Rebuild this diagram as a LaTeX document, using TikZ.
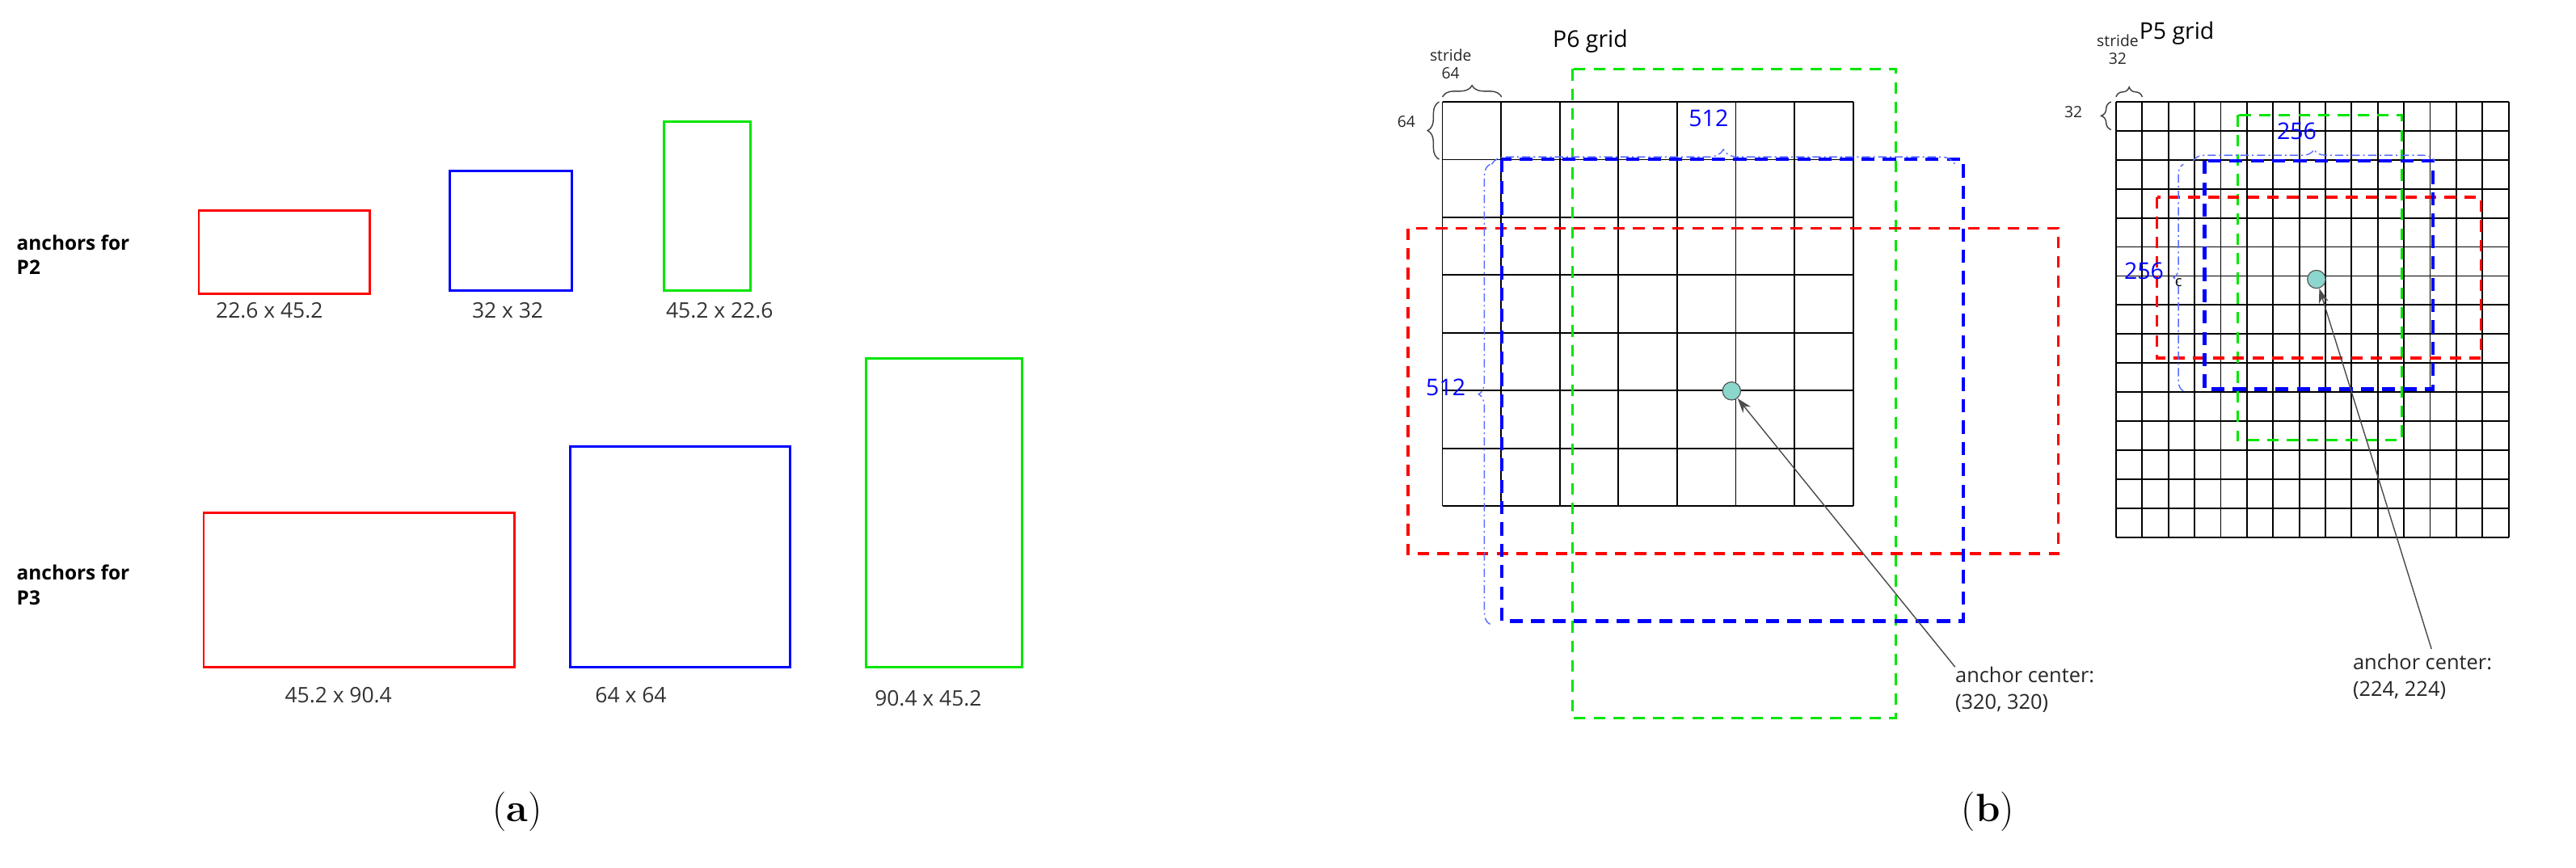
\documentclass[tikz,border=0pt]{standalone}
\usepackage{fontspec}
\setsansfont{Open Sans}
\usetikzlibrary{decorations.pathreplacing,arrows.meta}
\definecolor{gr}{RGB}{0,230,0}
\definecolor{bl}{RGB}{0,0,255}
\definecolor{lb}{RGB}{90,110,255}
\definecolor{dot}{RGB}{140,215,205}
\tikzset{
 lab/.style={font=\sffamily\fontsize{13}{14}\selectfont, text=black!80, inner sep=0pt},
 anc/.style={font=\sffamily\bfseries\fontsize{12}{15}\selectfont, align=left, inner sep=0pt, anchor=west},
 rbox/.style={draw=red, line width=1.4pt},
 bbox/.style={draw=bl, line width=1.4pt},
 gbox/.style={draw=gr, line width=1.4pt},
 rd/.style={draw=red, line width=1.6pt, dash pattern=on 7pt off 5pt},
 gd/.style={draw=gr, line width=1.6pt, dash pattern=on 7pt off 5pt},
 bd/.style={draw=bl, line width=2.2pt, dash pattern=on 8pt off 5pt},
 dd/.style={draw=lb, line width=0.7pt, dash pattern=on 5pt off 2pt on 1pt off 2pt},
 gridl/.style={draw=black, line width=0.9pt},
 br/.style={draw=black!75, line width=0.7pt, decorate},
 small/.style={font=\sffamily\fontsize{9.5}{11}\selectfont, text=black!85, inner sep=0pt, align=center},
 blab/.style={font=\sffamily\fontsize{14}{15}\selectfont, text=bl, inner sep=0pt},
 ttl/.style={font=\sffamily\fontsize{14}{15}\selectfont, inner sep=0pt},
 ctr/.style={font=\sffamily\fontsize{12.5}{16}\selectfont, text=black!85, align=left, inner sep=0pt, anchor=north west},
 pt/.style={circle, draw=black!65, fill=dot, line width=0.6pt, minimum width=9pt, minimum height=11pt, inner sep=0pt},
 arr/.style={draw=black!70, line width=0.7pt, -{Stealth[length=9pt,width=6pt]}},
 sub/.style={font=\fontsize{24}{26}\selectfont, inner sep=0pt}
}
\begin{document}
\begin{tikzpicture}[x=1pt,y=-1pt]
\useasboundingbox[fill=white] (0,0) rectangle (1568,528.4);
% ---------- (a)
\node[anc] (p2) at (10,155) {anchors for\\P2};
\node[anc] (p3) at (10,356) {anchors for\\P3};
\draw[rbox] (121,128) rectangle (225,179);
\draw[bbox] (274,104) rectangle (348,177);
\draw[gbox] (404,74) rectangle (457,177);
\node[lab] (l1) at (164,189) {22.6 x 45.2};
\node[lab] (l2) at (309,189) {32 x 32};
\node[lab] (l3) at (438,189) {45.2 x 22.6};
\draw[rbox] (124,312) rectangle (313,406);
\draw[bbox] (347,272) rectangle (481,406);
\draw[gbox] (527,218) rectangle (622,406);
\node[lab] (l4) at (206,423) {45.2 x 90.4};
\node[lab] (l5) at (384,423) {64 x 64};
\node[lab] (l6) at (565,425) {90.4 x 45.2};
\node[sub] (sa) at (315,494) {(\textbf{a})};
\node[sub] (sb) at (1210,494) {(\textbf{b})};
% ---------- P6 grid
\foreach \i in {0,...,7} {
  \draw[gridl] ({878+\i*250/7},62) -- ({878+\i*250/7},308);
  \draw[gridl] (878,{62+\i*246/7}) -- (1128,{62+\i*246/7});
}
\node[ttl] (t6) at (968,25) {P6 grid};
\node[small] (s6) at (883,39) {stride\\64};
\draw[br, decoration={brace,amplitude=7pt}] (878,59) -- (914,59);
\node[small] (s6b) at (856,74) {64};
\draw[br, decoration={brace,amplitude=7pt}] (876,97) -- (876,62);
\draw[gd] (957,42) rectangle (1154,437);
\draw[rd] (857,139) rectangle (1253,337);
\draw[bd] (914,97) rectangle (1195,378);
\draw[dd, decorate, decoration={brace,amplitude=9pt}] (908,100) -- (1190,100);
\draw[dd, decorate, decoration={brace,amplitude=7pt}] (907,380) -- (907,100);
\node[blab] (n6a) at (1040,72) {512};
\node[blab] (n6b) at (880,236) {512};
\node[pt] (d6) at (1054,238) {};
\node[ctr] (c6) at (1190,406) {anchor center:\\(320, 320)};
\draw[arr] (c6.north west) -- (d6);
% ---------- P5 grid
\foreach \i in {0,...,15} {
  \draw[gridl] ({1288+\i*239/15},62) -- ({1288+\i*239/15},327);
  \draw[gridl] (1288,{62+\i*265/15}) -- (1527,{62+\i*265/15});
}
\node[ttl] (t5) at (1325,20) {P5 grid};
\node[small] (s5) at (1289,30) {stride\\32};
\draw[br, decoration={brace,amplitude=6pt}] (1288,59) -- (1304,59);
\node[small] (s5b) at (1262,68) {32};
\draw[br, decoration={brace,amplitude=6pt}] (1285,79) -- (1285,62);
\draw[gd] (1362,70) rectangle (1462,268);
\draw[rd] (1313,120) rectangle (1510,218);
\draw[bd] (1342,98) rectangle (1481,237);
\draw[dd, decorate, decoration={brace,amplitude=7pt}] (1335,98) -- (1482,98);
\draw[dd, decorate, decoration={brace,amplitude=6pt}] (1329,238) -- (1329,100);
\node[blab] (n5a) at (1398,80) {256};
\node[blab] (n5b) at (1305,165) {256};
\node[font=\sffamily\fontsize{9}{10}\selectfont, inner sep=0pt] (cc) at (1326,172) {c};
\node[pt] (d5) at (1410,170) {};
\node[ctr] (c5) at (1432,398) {anchor center:\\(224, 224)};
\draw[arr] (1480,395) -- (d5);
\end{tikzpicture}
\end{document}
